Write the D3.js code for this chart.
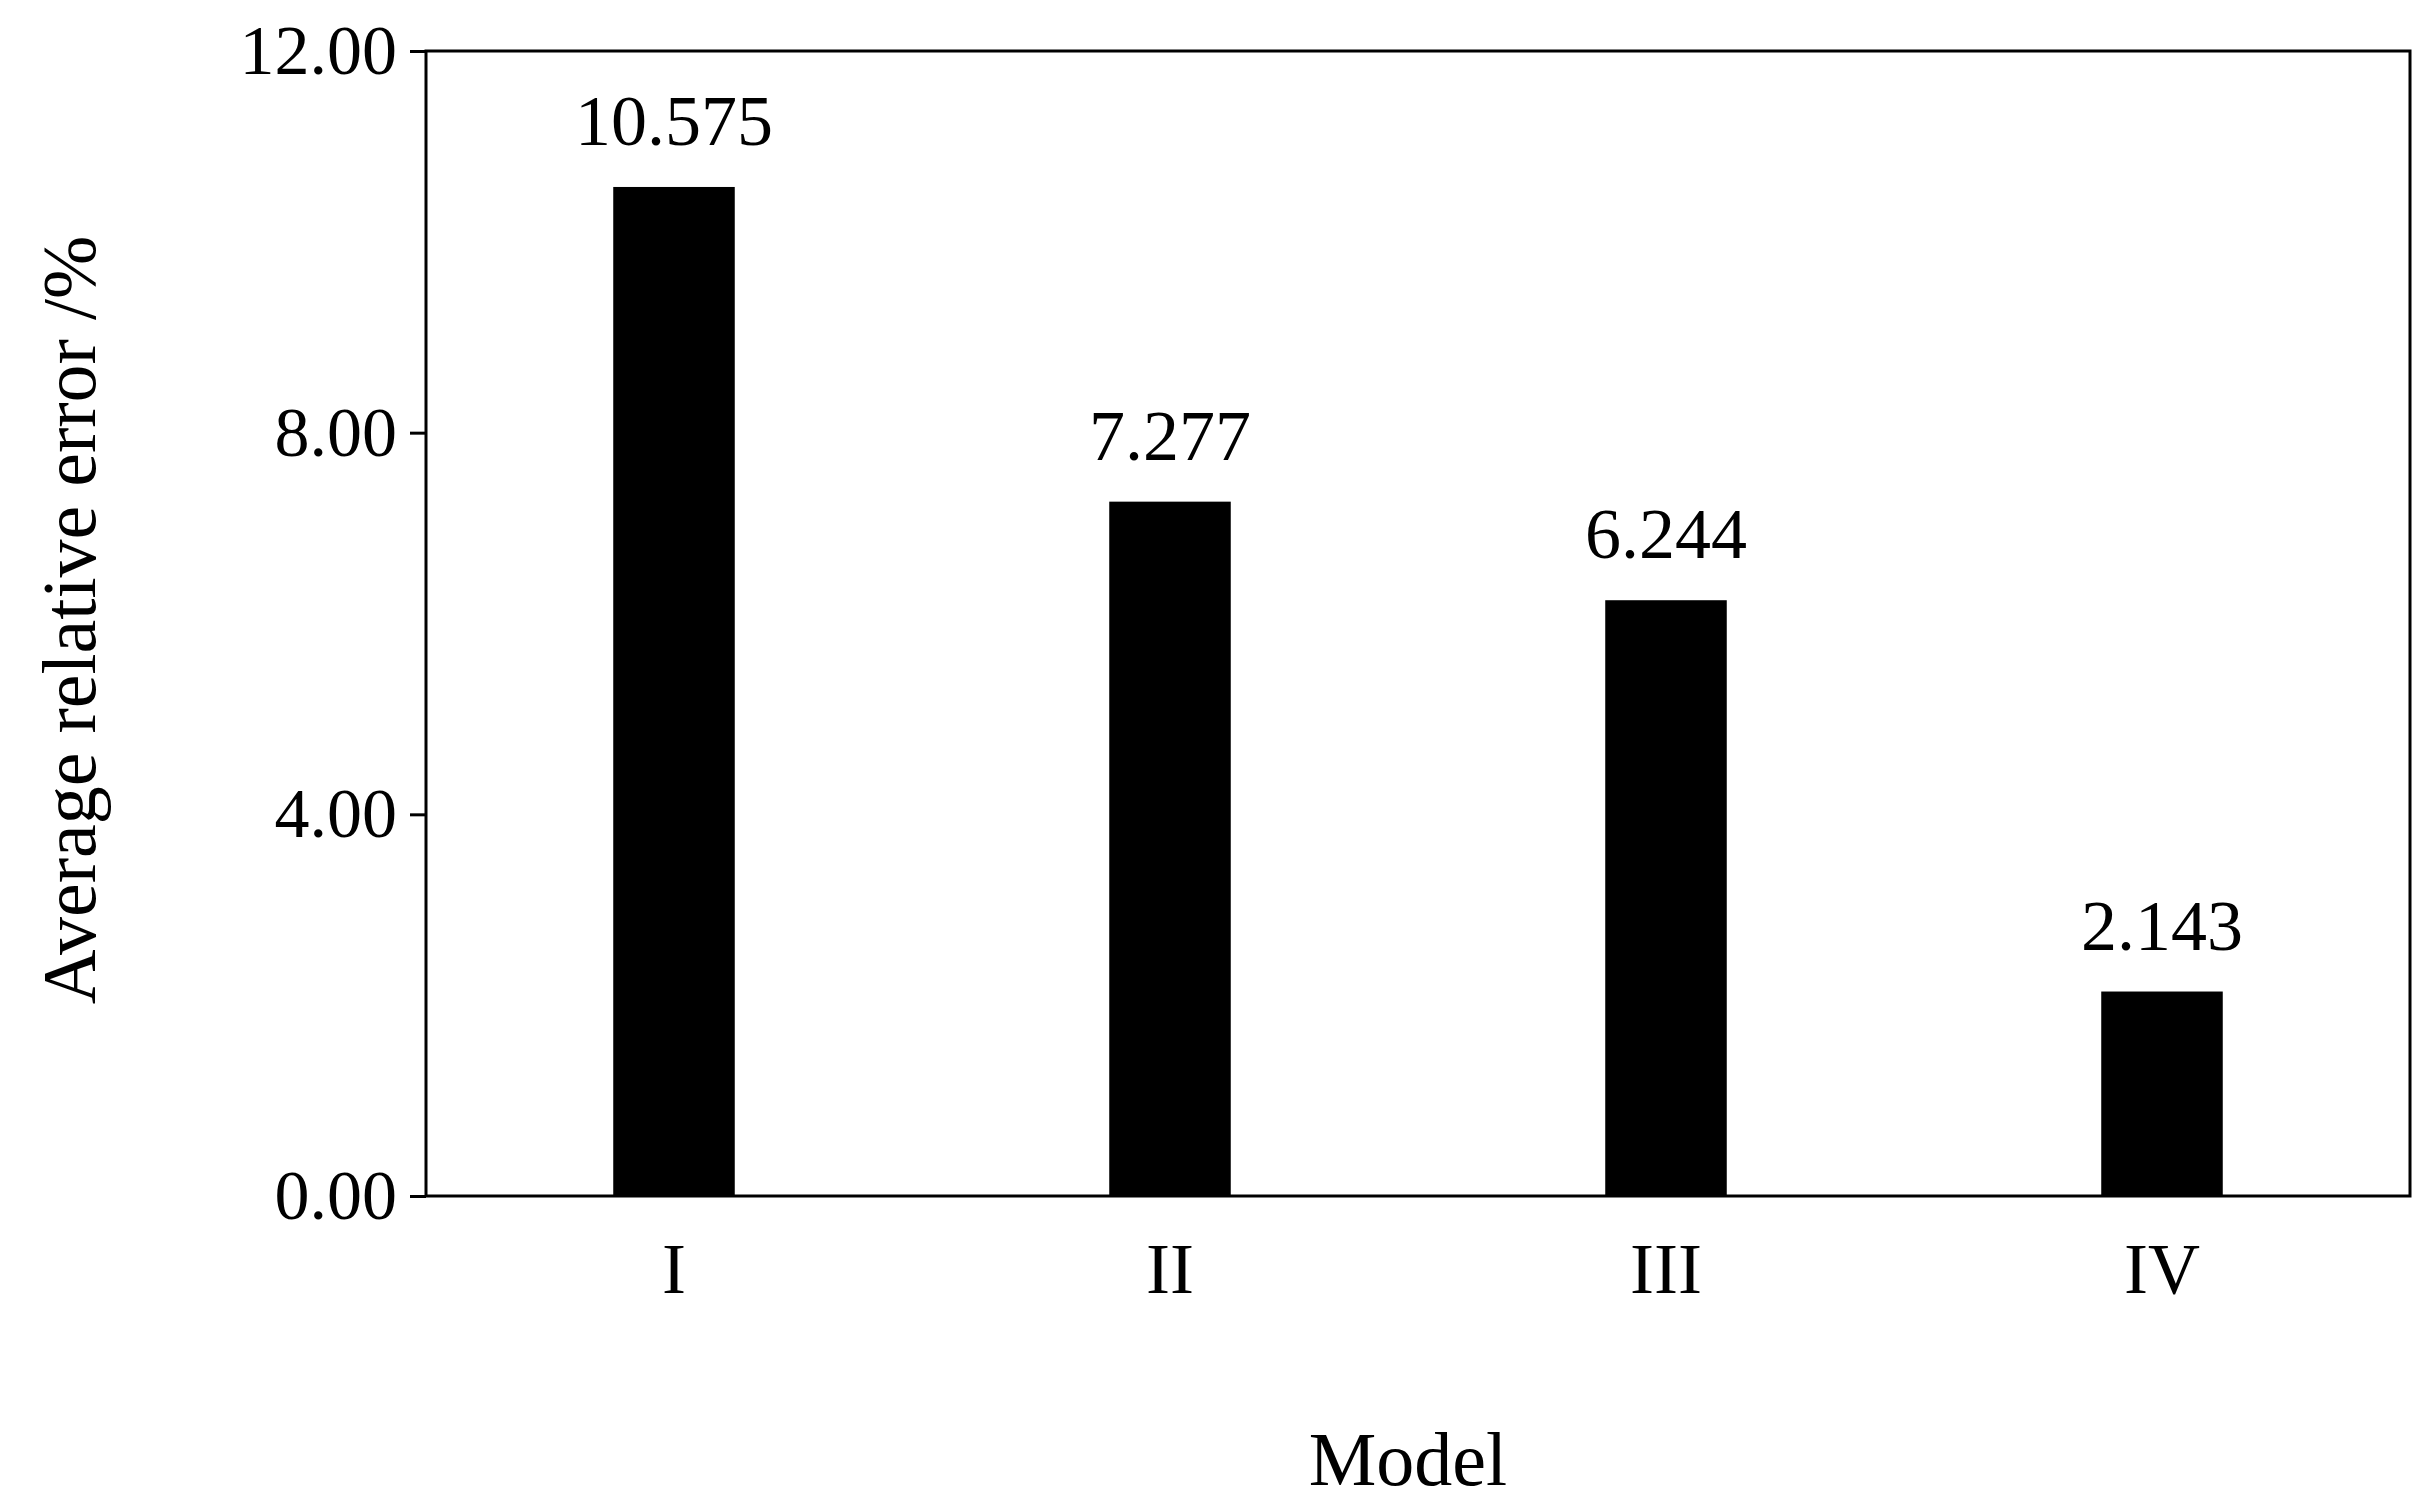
<!DOCTYPE html>
<html>
<head>
<meta charset="utf-8">
<script src="https://cdn.jsdelivr.net/npm/d3@7"></script>
<style>
  body { margin: 0; background: #fff; }
  text { font-family: "Liberation Serif", "Times New Roman", serif; }
</style>
</head>
<body>
<svg id="chart" width="2430" height="1509"></svg>
<script>
// chart data
var models = ["I", "II", "III", "IV"];
var errors = [10.575, 7.277, 6.244, 2.143];
var valueLabels = ["10.575", "7.277", "6.244", "2.143"];
var yTicks = [0, 4, 8, 12];

var margin = {top: 51, right: 20, bottom: 313, left: 426};
var width = 2430 - margin.left - margin.right;
var height = 1509 - margin.top - margin.bottom;

var svg = d3.select("#chart");
var g = svg.append("g").attr("transform", `translate(${margin.left},${margin.top})`);

var x = d3.scaleBand().domain(models).range([0, width]).paddingInner(0.755).paddingOuter(0.3775);
var y = d3.scaleLinear().domain([0, 12]).range([height, 0]);

// frame
g.append("rect")
  .attr("width", width).attr("height", height)
  .attr("fill", "none").attr("stroke", "#000").attr("stroke-width", 3);

// bars
g.selectAll(".bar")
  .data(errors)
  .enter().append("rect")
  .attr("x", (d, i) => x(models[i]))
  .attr("y", d => y(d))
  .attr("width", x.bandwidth())
  .attr("height", d => height - y(d))
  .attr("fill", "#000");

// value labels
g.selectAll(".val")
  .data(errors)
  .enter().append("text")
  .attr("x", (d, i) => x(models[i]) + x.bandwidth() / 2)
  .attr("y", d => y(d) - 42)
  .attr("text-anchor", "middle")
  .attr("font-size", 72)
  .text((d, i) => valueLabels[i]);

// y axis
var yAxis = g.append("g")
  .call(d3.axisLeft(y).tickValues(yTicks).tickFormat(d3.format(".2f")).tickSize(16).tickSizeOuter(0));
yAxis.select(".domain").remove();
yAxis.selectAll("line").attr("stroke-width", 3);
yAxis.selectAll("text").attr("font-size", 70).attr("dx", -10).attr("font-family", "Liberation Serif");

// x axis labels
var xAxis = g.append("g").attr("transform", `translate(0,${height})`)
  .call(d3.axisBottom(x).tickSize(0));
xAxis.select(".domain").remove();
xAxis.selectAll("text").attr("font-size", 72).attr("dy", "1.3em").attr("font-family", "Liberation Serif");

// axis titles
svg.append("text")
  .attr("x", margin.left + width / 2 - 10)
  .attr("y", 1485)
  .attr("text-anchor", "middle")
  .attr("font-size", 76)
  .text("Model");

svg.append("text")
  .attr("transform", "translate(95,620) rotate(-90)")
  .attr("text-anchor", "middle")
  .attr("font-size", 76)
  .text("Average relative error /%");
</script>
</body>
</html>
